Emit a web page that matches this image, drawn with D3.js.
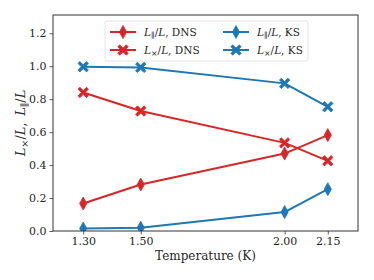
<!DOCTYPE html>
<html>
<head>
<meta charset="utf-8">
<script src="https://cdn.jsdelivr.net/npm/d3@7"></script>
<style>
  html, body { margin: 0; padding: 0; background: #fff; }
  text { font-family: "DejaVu Serif", serif; fill: #262626; }
</style>
</head>
<body>
<div id="container"></div>
<script>
// temperatures (K)
const temps = [1.30, 1.50, 2.00, 2.15];
const tickLabels = ["1.30", "1.50", "2.00", "2.15"];
// series
const parDNS = [0.167, 0.282, 0.470, 0.582];
const crossDNS = [0.841, 0.728, 0.535, 0.426];
const parKS = [0.015, 0.020, 0.115, 0.254];
const crossKS = [0.997, 0.993, 0.896, 0.754];
const yTicks = [0, 0.2, 0.4, 0.6, 0.8, 1.0, 1.2];

const red = "#d62728", blue = "#1f77b4";
const series = [
  { name: "par", tag: "DNS", vals: parDNS, color: red, mark: "d" },
  { name: "cross", tag: "DNS", vals: crossDNS, color: red, mark: "X" },
  { name: "par", tag: "KS", vals: parKS, color: blue, mark: "d" },
  { name: "cross", tag: "KS", vals: crossKS, color: blue, mark: "X" }
];

const width = 374, height = 280;
const m = { left: 53, right: 16, top: 15, bottom: 49 };

const x = d3.scaleLinear().domain([1.195, 2.255]).range([m.left, width - m.right]);
const y = d3.scaleLinear().domain([0, 1.311]).range([height - m.bottom, m.top]);

const svg = d3.select("#container")
  .append("svg")
    .attr("width", width)
    .attr("height", height);

svg.append("defs").append("clipPath").attr("id", "clip")
  .append("rect")
    .attr("x", m.left).attr("y", m.top)
    .attr("width", width - m.left - m.right)
    .attr("height", height - m.top - m.bottom);

// marker shapes
function markPath(kind) {
  if (kind === "d") return "M0,-6.5L3.6,0L0,6.5L-3.6,0Z";
  const a = 5.2, w = 1.9;
  return `M${-a+w},${-a}L0,${-w}L${a-w},${-a}L${a},${-a+w}L${w},0L${a},${a-w}L${a-w},${a}L0,${w}L${-a+w},${a}L${-a},${a-w}L${-w},0L${-a},${-a+w}Z`;
}

const plot = svg.append("g").attr("clip-path", "url(#clip)");
const line = d3.line().x((d, i) => x(temps[i])).y(d => y(d));

series.forEach(s => {
  plot.append("path")
    .datum(s.vals)
    .attr("d", line)
    .attr("fill", "none")
    .attr("stroke", s.color)
    .attr("stroke-width", 2)
    .attr("stroke-linejoin", "round");
  plot.selectAll(null)
    .data(s.vals)
    .join("path")
      .attr("transform", (d, i) => `translate(${x(temps[i])},${y(d)})`)
      .attr("d", markPath(s.mark))
      .attr("fill", s.color)
      .attr("stroke", s.color)
      .attr("stroke-width", 0.8)
      .attr("stroke-linejoin", "round");
});

// axes
const xAxis = d3.axisBottom(x).tickValues(temps).tickFormat((d, i) => tickLabels[i]).tickSize(3.5).tickPadding(3);
const yAxis = d3.axisLeft(y).tickValues(yTicks).tickFormat(d3.format(".1f")).tickSize(3.5).tickPadding(3);

const gx = svg.append("g").attr("transform", `translate(0,${height - m.bottom})`).call(xAxis);
const gy = svg.append("g").attr("transform", `translate(${m.left},0)`).call(yAxis);
[gx, gy].forEach(g => {
  g.attr("font-family", null);
  g.select(".domain").remove();
  g.selectAll("line").attr("stroke", "#333").attr("stroke-width", 0.8);
  g.selectAll("text").attr("font-size", 11).attr("fill", "#262626");
});

svg.append("rect")
  .attr("x", m.left).attr("y", m.top)
  .attr("width", width - m.left - m.right)
  .attr("height", height - m.top - m.bottom)
  .attr("fill", "none").attr("stroke", "#333").attr("stroke-width", 1);

// math-ish label helper
function addLabel(sel, kind, tail, size) {
  sel.append("tspan").attr("font-style", "italic").text("L");
  sel.append("tspan").attr("font-size", size * 0.75).attr("dy", size * 0.22)
    .text(kind === "par" ? "\u2225" : "\u00d7");
  sel.append("tspan").attr("dy", -size * 0.22).text("/");
  sel.append("tspan").attr("font-style", "italic").text("L");
  sel.append("tspan").text(tail);
}

svg.append("text")
  .attr("x", (m.left + width - m.right) / 2)
  .attr("y", 260)
  .attr("text-anchor", "middle")
  .attr("font-size", 12)
  .text("Temperature (K)");

const yl = svg.append("text")
  .attr("transform", `translate(25,${(m.top + height - m.bottom) / 2}) rotate(-90)`)
  .attr("text-anchor", "middle")
  .attr("font-size", 13);
addLabel(yl, "cross", ",", 13);
yl.append("tspan").text("\u2002");
addLabel(yl, "par", "", 13);

// legend
const lg = svg.append("g").attr("transform", "translate(105,21)");
lg.append("rect")
  .attr("width", 203).attr("height", 40).attr("rx", 2)
  .attr("fill", "#fff").attr("fill-opacity", 0.8)
  .attr("stroke", "#ddd").attr("stroke-width", 0.8);
series.forEach((s, i) => {
  const col = i < 2 ? 0 : 1, row = i % 2;
  const g = lg.append("g").attr("transform", `translate(${5 + col * 113},${11 + row * 18})`);
  g.append("line").attr("x1", 0).attr("x2", 26).attr("stroke", s.color).attr("stroke-width", 2);
  g.append("path").attr("transform", "translate(13,0)").attr("d", markPath(s.mark))
    .attr("fill", s.color).attr("stroke", s.color).attr("stroke-width", 0.8);
  const t = g.append("text").attr("x", 34).attr("y", 4).attr("font-size", 10.5);
  addLabel(t, s.name, ", " + s.tag, 10.5);
});
</script>
</body>
</html>
